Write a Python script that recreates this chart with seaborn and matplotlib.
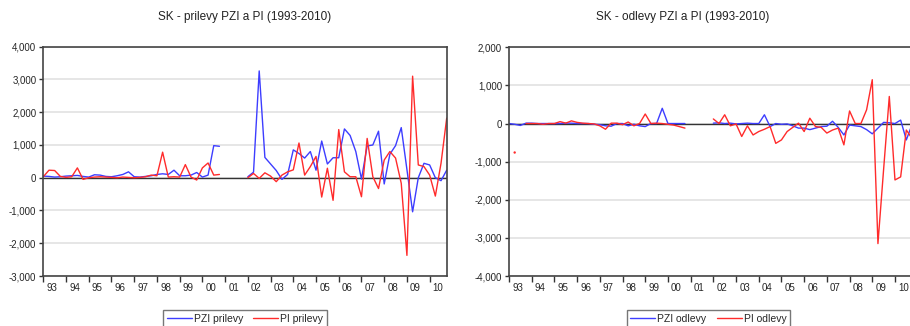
import numpy as np
import pandas as pd
import matplotlib.pyplot as plt
import seaborn as sns
from matplotlib.ticker import FixedLocator, FuncFormatter

sns.set_style("white")
plt.rcParams["font.family"] = ["Liberation Sans", "DejaVu Sans"]
plt.rcParams["legend.fancybox"] = False

nan = np.nan

# quarterly data 1993Q1 - 2010Q4 (2001 missing)
quarters = pd.period_range("1993Q1", "2010Q4", freq="Q")
years = list(range(1993, 2011))
year_labels = [f"{y % 100:02d}" for y in years]

pzi_prilevy = [50, 40, 20, 30, 50, 60, 70, 40, 20, 90, 80, 40, 30, 60, 100, 180,
               30, 20, 40, 60, 100, 120, 100, 230, 60, 60, 80, 160, 20, 80, 980, 960,
               nan, nan, nan, nan,
               30, 170, 3260, 620, 420, 220, -50, 100, 850, 740, 600, 800,
               230, 1120, 420, 610, 610, 1490, 1290, 800, -40, 970, 1000, 1420,
               -190, 720, 980, 1530, 250, -1040, 0, 440, 390, 0, -90, 230]
pi_prilevy = [30, 230, 220, 40, 10, 30, 300, -50, 0, 20, 30, 20, 10, 0, 20, 10,
              0, 10, 30, 80, 60, 780, 20, 30, 20, 400, 20, -70, 300, 450, 80, 100,
              nan, nan, nan, nan,
              0, 130, -20, 150, 50, -120, 80, 180, 240, 1060, 80, 340,
              650, -590, 290, -690, 1470, 180, 30, 30, -580, 1200, 30, -330,
              540, 800, 600, -170, -2370, 3100, 390, 340, 80, -560, 440, 1820]
pzi_odlevy = [0, -20, -50, 10, 10, 0, 0, 0, 0, 0, 10, 10, 0, 0, 0, -20,
              -30, -60, -70, 0, 0, -60, -20, -60, -80, 0, 0, 400, 0, 0, 0, 0,
              nan, nan, nan, nan,
              10, 20, 0, 10, -10, 0, 10, 0, 0, 230, -80, 0,
              -20, -10, -60, -120, -120, -160, -120, -80, -70, 60, -100, -300,
              -40, -60, -80, -160, -270, -120, 30, 20, 0, 90, -430, -30]
pi_odlevy = [nan, -760, nan, 0, 0, 0, -20, 0, 0, 50, 10, 70, 30, 10, 0, -10,
             -60, -150, 10, 10, -30, 40, -60, 0, 250, 0, 10, 0, -20, -40, -80, -120,
             nan, nan, nan, nan,
             120, 0, 230, -60, -10, -340, -60, -300, -210, -150, -80, -520,
             -430, -210, -100, 10, -210, 140, -80, -100, -250, -170, -120, -560,
             330, 0, 0, 360, 1150, -3150, -1200, 710, -1480, -1400, -170, -390]

t = quarters.year + (quarters.quarter - 1) / 4
blue, red = "#3d3dff", "#ff2b2b"


def long_frame(series):
    parts = []
    for name, vals in series.items():
        s = pd.Series(vals, dtype=float)
        parts.append(pd.DataFrame({"t": t, "value": s, "serie": name,
                                   "seg": s.isna().cumsum()}).dropna())
    return pd.concat(parts, ignore_index=True)


fig = plt.figure(figsize=(9.1, 3.26), dpi=100)
panels = [
    ("SK - prilevy PZI a PI (1993-2010)", {"PZI prilevy": pzi_prilevy, "PI prilevy": pi_prilevy},
     [43.3, 446.7, 46.7, 276], (-3000, 4000), 245, 245),
    ("SK - odlevy PZI a PI (1993-2010)", {"PZI odlevy": pzi_odlevy, "PI odlevy": pi_odlevy},
     [509, 912, 47.3, 276], (-4000, 2000), 683, 708.5),
]
W, H = 910, 326

for title, series, (x0, x1, ytop, ybot), (ymin, ymax), tx, lx in panels:
    ax = fig.add_axes([x0 / W, (H - ybot) / H, (x1 - x0) / W, (ybot - ytop) / H])
    df = long_frame(series)
    sns.lineplot(data=df, x="t", y="value", hue="serie", units="seg", estimator=None,
                 palette=[blue, red], lw=1, ax=ax)
    single = df.groupby(["serie", "seg"]).filter(lambda g: len(g) == 1)
    if len(single):
        sns.scatterplot(data=single, x="t", y="value", color=red, s=3,
                        edgecolor="none", ax=ax, legend=False)
    ax.axhline(0, color="#333333", lw=1, zorder=1.5)
    ax.set_xlim(1993, 2010.75)
    ax.set_ylim(ymin, ymax)
    ax.set_yticks(np.arange(ymin, ymax + 1, 1000))
    ax.yaxis.set_major_formatter(FuncFormatter(lambda v, p: f"{int(v):,}"))
    ax.yaxis.grid(True, color="#e2e2e2", lw=1.2)
    ax.set_axisbelow(True)
    ax.xaxis.set_major_locator(FixedLocator(years))
    ax.xaxis.set_minor_locator(FixedLocator([y + 0.375 for y in years]))
    ax.set_xticklabels([""] * len(years))
    ax.set_xticklabels(year_labels, minor=True)
    ax.tick_params(axis="x", which="major", direction="out", length=4, width=1,
                   color="#333333", bottom=True)
    ax.tick_params(axis="x", which="minor", length=0, labelsize=7, pad=5, bottom=True)
    ax.tick_params(axis="y", direction="out", length=3, width=1, color="#333333",
                   labelsize=7, pad=2, left=True)
    for sp in ax.spines.values():
        sp.set_color("#444444")
        sp.set_linewidth(1.2)
    ax.set_xlabel("")
    ax.set_ylabel("")
    sns.move_legend(ax, "upper center", bbox_to_anchor=(lx / W, 16 / H),
                    bbox_transform=fig.transFigure, ncol=2, title=None, frameon=True,
                    fontsize=7.5, handlelength=2.4, handletextpad=0.2,
                    columnspacing=1.0, borderpad=0.35, borderaxespad=0,
                    edgecolor="#555555")
    fig.text(tx / W, 1 - 17 / H, title, ha="center", va="center", fontsize=8.5,
             color="#222222")

fig.savefig("out.png", dpi=100)
